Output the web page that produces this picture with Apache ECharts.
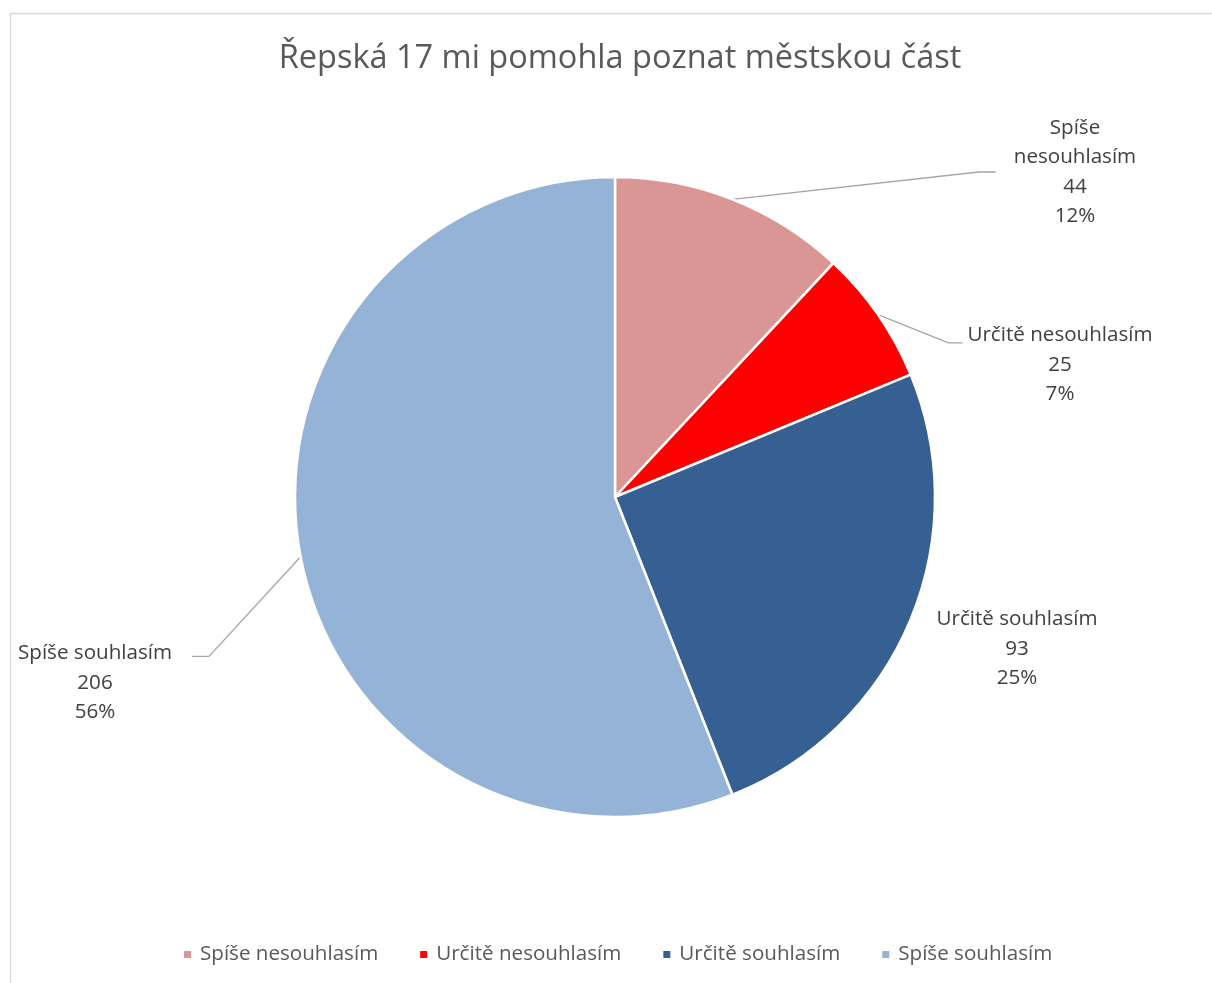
<!DOCTYPE html>
<html>
<head>
<meta charset="utf-8">
<script src="https://cdn.jsdelivr.net/npm/echarts@6/dist/echarts.min.js"></script>
<style>
html,body{margin:0;padding:0;background:#fff;}
#chart{width:1212px;height:983px;}
</style>
</head>
<body>
<div id="chart"></div>
<script>
const titleText = 'Řepská 17 mi pomohla poznat městskou část';
const categories = ['Spíše nesouhlasím', 'Určitě nesouhlasím', 'Určitě souhlasím', 'Spíše souhlasím'];
const values = [44, 25, 93, 206];
const colors = ['#D99694', '#FF0000', '#376092', '#95B3D7'];

// label placement (layout only)
const LABEL_LAYOUT = [
  { cx: 1075, cy: 172, line: { side: 'left', gap: 18, tail: 17, dy: 0.5 } },
  { cx: 1060, cy: 365, line: { side: 'left', gap: 5, tail: 14, dy: 0.25 } },
  { cx: 1017, cy: 649, line: null },
  { cx: 95, cy: 683, line: { side: 'right', gap: 20, tail: 17, dy: 0.2 } }
];

const FONT = '"Open Sans"';
const chart = echarts.init(document.getElementById('chart'), null, { renderer: 'canvas' });

const data = categories.map((name, i) => ({
  name: name,
  value: values[i],
  itemStyle: { color: colors[i] },
  labelLine: { show: !!LABEL_LAYOUT[i].line }
}));

chart.setOption({
  backgroundColor: '#ffffff',
  animation: false,
  graphic: [{
    type: 'rect',
    shape: { x: 10.5, y: 13.5, width: 1400, height: 1200 },
    style: { fill: 'none', stroke: '#d9d9d9', lineWidth: 1.5 },
    silent: true, z: -1
  }],
  title: {
    text: titleText,
    left: 615,
    textAlign: 'center',
    top: 37,
    textStyle: { fontFamily: FONT, fontSize: 32.5, fontWeight: 'normal', color: '#595959' }
  },
  legend: {
    left: 177,
    top: 939,
    itemWidth: 9,
    itemHeight: 9,
    itemGap: 40,
    icon: 'rect',
    textStyle: { fontFamily: FONT, fontSize: 20.6, color: '#595959', padding: [0, 0, 0, 3] },
    data: categories
  },
  series: [{
    type: 'pie',
    center: [615, 497],
    radius: 320,
    startAngle: 90,
    clockwise: true,
    avoidLabelOverlap: false,
    percentPrecision: 0,
    itemStyle: { borderColor: '#ffffff', borderWidth: 2.5 },
    label: {
      show: true,
      position: 'outside',
      fontFamily: FONT,
      fontSize: 20.6,
      lineHeight: 29.5,
      color: '#404040',
      align: 'center',
      formatter: function (p) {
        const nm = p.dataIndex === 0 ? p.name.replace(' ', '\n') : p.name;
        return nm + '\n' + p.value + '\n' + Math.round(p.percent) + '%';
      }
    },
    labelLine: { show: true, lineStyle: { color: '#a6a6a6', width: 1.3 } },
    labelLayout: function (p) {
      const L = LABEL_LAYOUT[p.dataIndex];
      const w = p.labelRect.width, h = p.labelRect.height;
      const left = L.cx - w / 2, right = L.cx + w / 2, top = L.cy - h / 2;
      const res = { x: L.cx, y: L.cy, align: 'center', verticalAlign: 'middle' };
      if (L.line && p.labelLinePoints) {
        const start = p.labelLinePoints[0];
        const ey = top + h * L.line.dy;
        const ex = L.line.side === 'left' ? left - L.line.gap : right + L.line.gap;
        const mx = L.line.side === 'left' ? ex - L.line.tail : ex + L.line.tail;
        res.labelLinePoints = [start, [mx, ey], [ex, ey]];
      }
      return res;
    },
    data: data
  }]
});
</script>
</body>
</html>
